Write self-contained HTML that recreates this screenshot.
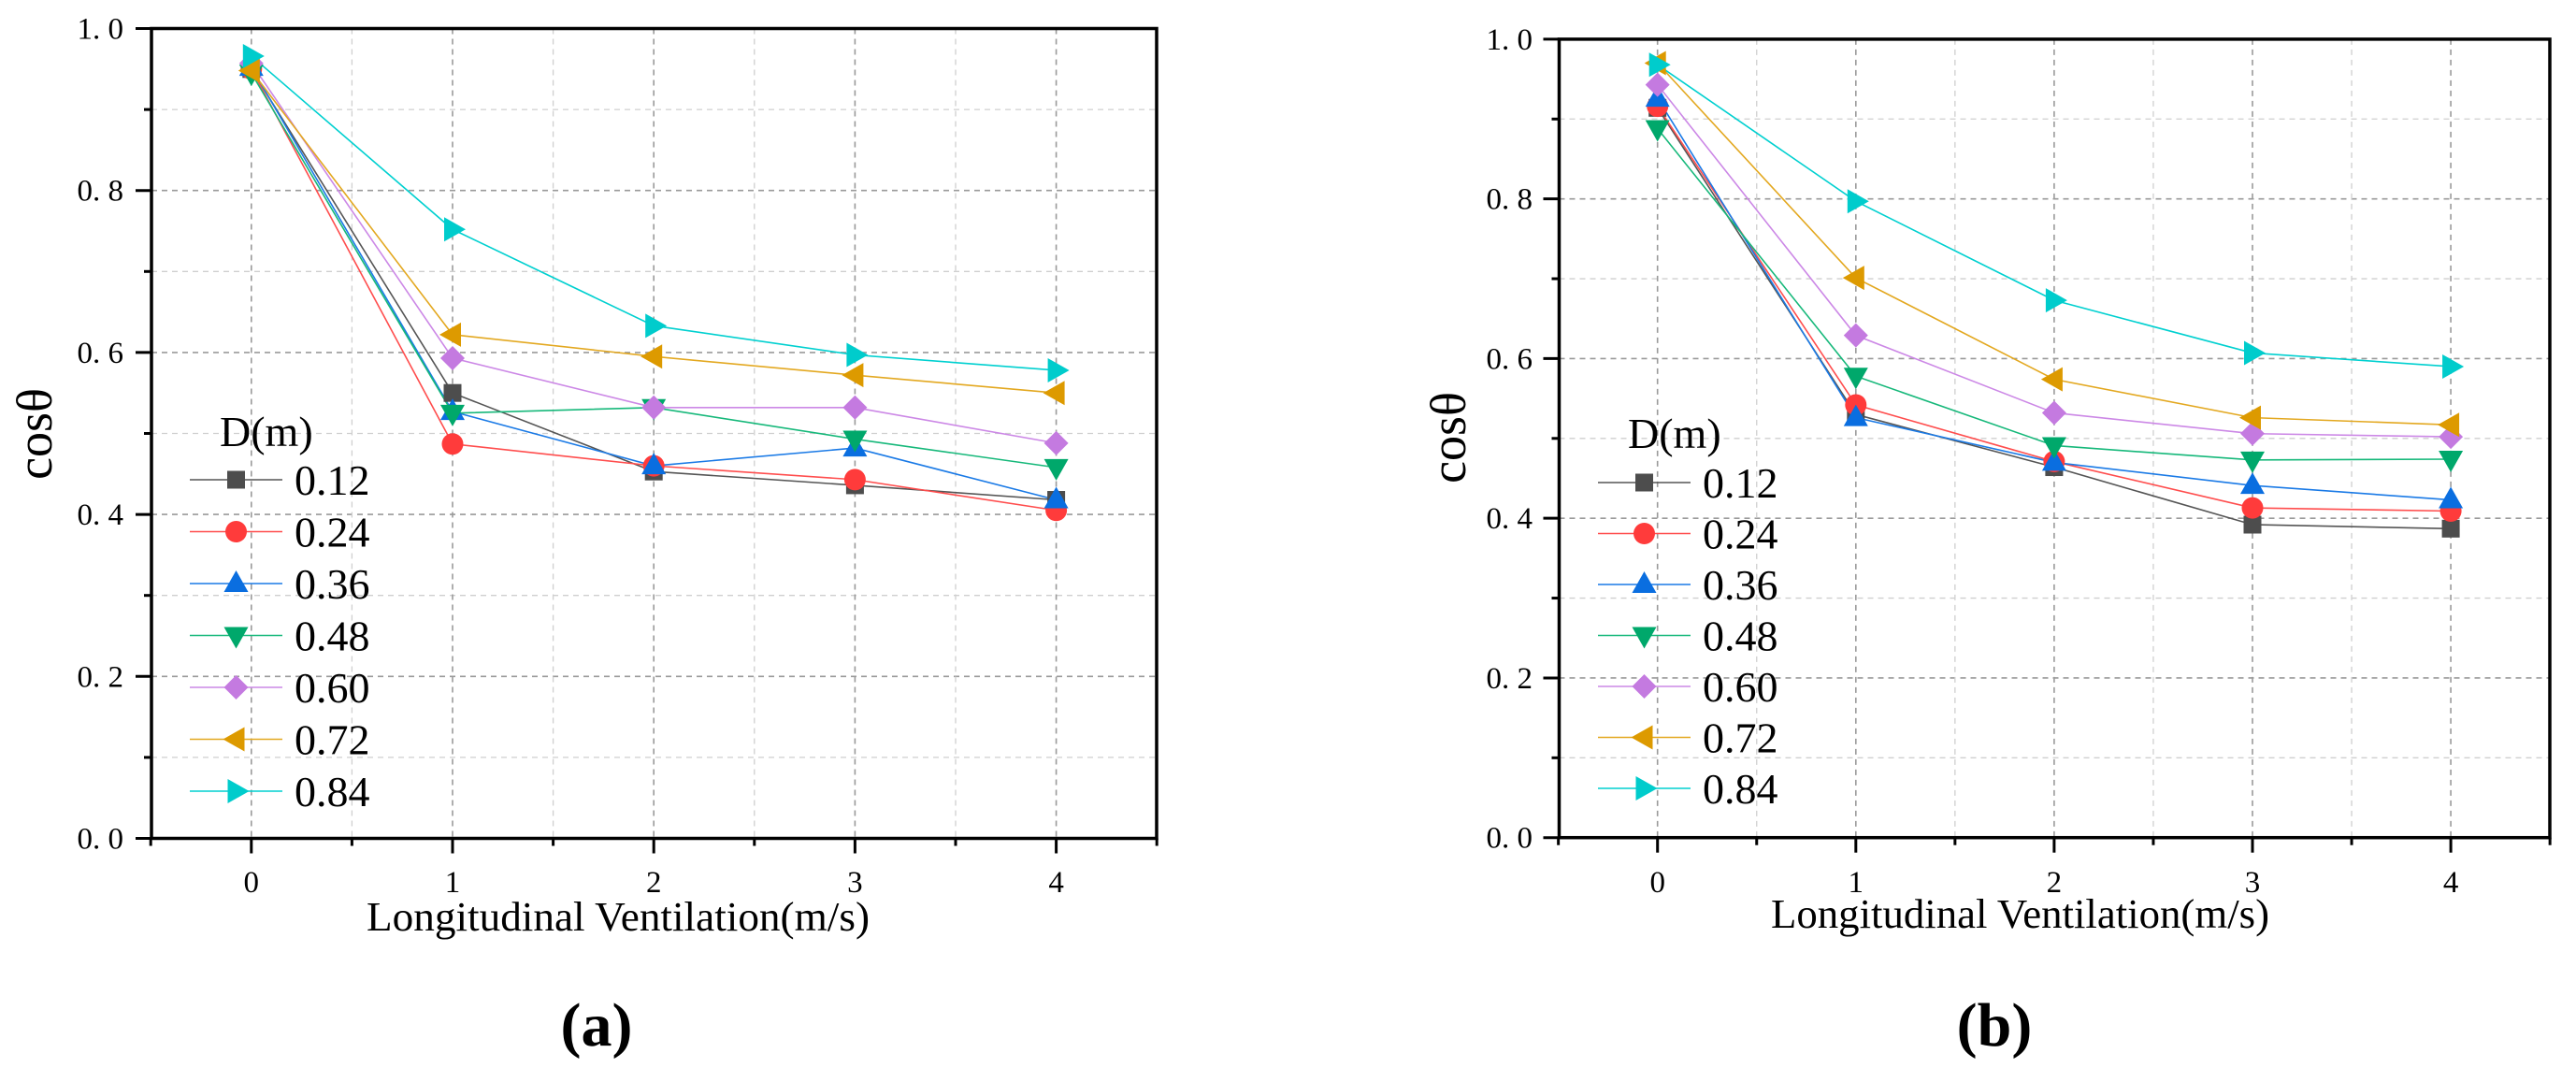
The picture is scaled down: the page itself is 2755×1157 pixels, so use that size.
<!DOCTYPE html>
<html><head><meta charset="utf-8"><style>
html,body{margin:0;padding:0;background:#fff;}
svg{display:block;}
text{font-family:"Liberation Serif","Noto Serif CJK SC",serif;fill:#000;}
</style></head><body>
<svg id="fig" width="2755" height="1157" viewBox="0 0 2755 1157" xmlns="http://www.w3.org/2000/svg"></svg>
<script>
const xCategories = [0, 1, 2, 3, 4];
const seriesLabels = ["0.12","0.24","0.36","0.48","0.60","0.72","0.84"];
const yTickLabels = ["0. 0","0. 2","0. 4","0. 6","0. 8","1. 0"];
const yTickValues = [0,0.2,0.4,0.6,0.8,1.0];
// panel (a)
const a012 = [0.950,0.550,0.453,0.436,0.418];
const a024 = [0.950,0.487,0.460,0.443,0.405];
const a036 = [0.952,0.527,0.460,0.482,0.418];
const a048 = [0.945,0.525,0.532,0.493,0.458];
const a060 = [0.957,0.593,0.532,0.532,0.488];
const a072 = [0.948,0.622,0.595,0.572,0.550];
const a084 = [0.966,0.752,0.633,0.597,0.578];
// panel (b)
const b012 = [0.914,0.530,0.464,0.392,0.387];
const b024 = [0.916,0.542,0.471,0.413,0.409];
const b036 = [0.926,0.526,0.470,0.441,0.423];
const b048 = [0.888,0.578,0.491,0.473,0.474];
const b060 = [0.943,0.629,0.532,0.506,0.502];
const b072 = [0.970,0.701,0.574,0.526,0.517];
const b084 = [0.968,0.797,0.673,0.607,0.590];

const colors=["#4d4d4d","#ff3b3b","#0a6ee0","#00a86b","#c47ae0","#dd9a00","#00cccc"];
const lineColors=["#555","#ff4d4d","#1a7ae6","#16b87a","#cc88e6","#e3a820","#00d0d0"];
const shapes=["square","circle","up","down","diamond","left","right"];
const NS="http://www.w3.org/2000/svg";
const svg=document.getElementById("fig");
function el(tag,attrs,parent){const e=document.createElementNS(NS,tag);for(const k in attrs)e.setAttribute(k,attrs[k]);(parent||svg).appendChild(e);return e;}

function marker(g,shape,cx,cy,color){
  let e;const s=13;
  if(shape==="square") e=el("rect",{x:cx-9.5,y:cy-9.5,width:19,height:19,fill:color},g);
  else if(shape==="circle") e=el("circle",{cx:cx,cy:cy,r:11.5,fill:color},g);
  else if(shape==="up") e=el("polygon",{points:`${cx},${cy-14} ${cx+13},${cy+9} ${cx-13},${cy+9}`,fill:color},g);
  else if(shape==="down") e=el("polygon",{points:`${cx},${cy+14} ${cx+13},${cy-9} ${cx-13},${cy-9}`,fill:color},g);
  else if(shape==="diamond") e=el("polygon",{points:`${cx},${cy-13} ${cx+13},${cy} ${cx},${cy+13} ${cx-13},${cy}`,fill:color},g);
  else if(shape==="left") e=el("polygon",{points:`${cx-14},${cy} ${cx+9},${cy-13} ${cx+9},${cy+13}`,fill:color},g);
  else e=el("polygon",{points:`${cx+14},${cy} ${cx-9},${cy-13} ${cx-9},${cy+13}`,fill:color},g);
  return e;
}

function panel(cfg){
  const {name,L,R,T,B,x0,dx,series,legX,legY,legStep,dX,dY,titleX,titleY,titleW,labX,labY,panelLabel,panelX,tickLabX}=cfg;
  const g=el("g",{});
  
  
  const xs=v=>x0+v*dx;
  const ys=v=>B-(B-T)*v;
  // grid
  const grid=el("g",{},g);
  
  
  for(let i=1;i<10;i++){const v=i/10;const major=(i%2===0);
    el("line",{x1:L,x2:R,y1:ys(v),y2:ys(v),stroke:major?"#9a9a9a":"#cfcfcf","stroke-width":major?1.6:1.3,"stroke-dasharray":"6,5"},grid);}
  for(let v=-0.5;v<=4.01;v+=0.5){if(v<-0.4)continue;const major=Number.isInteger(v);
    el("line",{x1:xs(v),x2:xs(v),y1:T,y2:B,stroke:major?"#9a9a9a":"#cfcfcf","stroke-width":major?1.6:1.3,"stroke-dasharray":"6,5"},grid);}
  // series lines
  series.forEach((vals,si)=>{
    const pts=xCategories.map((c,i)=>`${xs(c)},${ys(vals[i])}`).join(" ");
    const pl=el("polyline",{points:pts,fill:"none",stroke:lineColors[si],"stroke-width":1.6},g);
    
    
  });
  series.forEach((vals,si)=>{
    xCategories.forEach((c,i)=>{
      const m=marker(g,shapes[si],xs(c),ys(vals[i]),colors[si]);
      
      
    });
  });
  // axes frame
  el("rect",{x:L,y:T,width:R-L,height:B-T,fill:"none",stroke:"#000","stroke-width":3.5},g);
  // y ticks
  for(let i=0;i<=10;i++){const v=i/10;const major=(i%2===0);
    el("line",{x1:L-(major?17:8),x2:L,y1:ys(v),y2:ys(v),stroke:"#000","stroke-width":3},g);}
  yTickValues.forEach((v,i)=>{
    const t=el("text",{x:tickLabX,y:ys(v)+11,"text-anchor":"end","font-size":33},g);
    t.textContent=yTickLabels[i];
    
    
  });
  // x ticks
  for(let v=-0.5;v<=4.51;v+=0.5){const major=Number.isInteger(v);
    el("line",{x1:xs(v),x2:xs(v),y1:B,y2:B+(major?16:8),stroke:"#000","stroke-width":3},g);}
  xCategories.forEach(c=>{
    const t=el("text",{x:xs(c),y:954,"text-anchor":"middle","font-size":33},g);
    t.textContent=String(c);
    
    
  });
  // x title
  const xt=el("text",{x:titleX,y:titleY,"font-size":44,textLength:titleW,lengthAdjust:"spacingAndGlyphs"},g);
  xt.textContent="Longitudinal Ventilation(m/s)";
  
  
  // y title
  const yt=el("text",{x:0,y:0,"font-size":54,"text-anchor":"middle",transform:`translate(${labX},${labY}) rotate(-90)`},g);
  yt.textContent="cosθ";
  
  
  // legend
  const lg=el("g",{},g);
  
  
  const dt=el("text",{x:dX,y:dY,"font-size":46},lg);
  dt.textContent="D(m)";
  
  
  seriesLabels.forEach((lab,si)=>{
    const y=legY+si*legStep;
    const e=el("g",{},lg);
    
    
    el("line",{x1:legX,x2:legX+99,y1:y,y2:y,stroke:lineColors[si],"stroke-width":1.6},e);
    marker(e,shapes[si],legX+49.5,y,colors[si]);
    const t=el("text",{x:legX+112,y:y+16,"font-size":46},e);
    t.textContent=lab;
  });
  const pl=el("text",{x:panelX,y:1118,"font-size":66,"font-weight":"bold","text-anchor":"middle"},g);
  pl.textContent=panelLabel;
  
  
}

panel({name:"chart-a",L:162,R:1237,T:30.5,B:896.5,x0:268.8,dx:215.2,
  series:[a012,a024,a036,a048,a060,a072,a084],
  legX:203,legY:513,legStep:55.5,dX:235,dY:477,
  titleX:392,titleY:995,titleW:538,labX:55,labY:464,panelLabel:"(a)",panelX:638,tickLabX:132});
panel({name:"chart-b",L:1667.5,R:2727,T:41.9,B:895.7,x0:1772.7,dx:212.1,
  series:[b012,b024,b036,b048,b060,b072,b084],
  legX:1709,legY:516,legStep:54.5,dX:1741,dY:479,
  titleX:1894,titleY:992,titleW:533,labX:1567,labY:468,panelLabel:"(b)",panelX:2133,tickLabX:1639});
</script>
</body></html>
